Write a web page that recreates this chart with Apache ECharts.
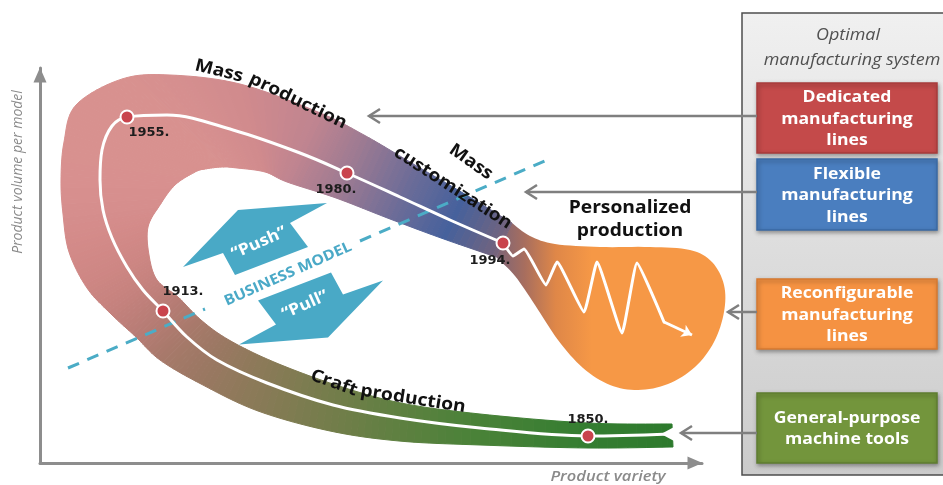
<!DOCTYPE html>
<html><head><meta charset="utf-8">
<script src="https://cdn.jsdelivr.net/npm/echarts@6/dist/echarts.min.js"></script>
<style>html,body{margin:0;padding:0;background:#fff;overflow:hidden}#c{width:943px;height:485px}</style>
</head><body><div id="c"></div>
<script>
// ---- data (units of the hidden axes: x = product variety, y = product volume per model) ----
const years = ['1850.', '1913.', '1955.', '1980.', '1994.'];
const milestoneX = [548, 123, 87, 307, 463];
const milestoneY = [27, 152, 346, 290, 220];

// evolution path (white line), from craft production to personalized production
const evolutionPath = [[630,29],[548,27],[440,35],[360,45],[293,58],[227,80],[177,103],[147,126],[123,152],[103,173],[87,196],[72,225],[63,253],[60,283],[62,313],[72,337],[87,346],[127,348],[193,333],[260,310],[307,290],[360,266],[410,243],[463,220]];

// ribbon cross-sections: outer edge and inner edge
const bandOuter = [[633,16],[548,15],[440,18],[359,22],[290,32],[218,52],[161,79],[120,103],[96,126],[71,149],[47,175],[29,211],[23,249],[21,283],[24,321],[36,358],[82,384],[130,388],[200,379],[278,351],[324,328],[375,298],[423,270],[472,240]];
const bandInner = [[632,39],[548,40],[440,49],[361,60],[296,78],[234,101],[189,123],[161,143],[138,166],[117,183],[109,208],[108,236],[120,258],[135,278],[155,291],[165,294],[182,296],[197,295],[225,291],[247,281],[296,265],[350,244],[401,225],[456,206]];
const bandNotch = [[636,37],[621,29],[636,21]];

// personalized production region
const blobOutline = [[472,240],[490,227],[515,219],[560,216],[610,216],[650,213],[672,201],[684,178],[684,151],[674,121],[655,96],[628,79],[598,73],[570,78],[543,95],[518,123],[495,158],[475,187],[456,206]];
const zigzag = [[463,220],[473,207],[484,214],[506,178],[517,201],[544,151],[557,201],[582,130],[597,200],[624,141]];
const zigzagArrow = [[624,141],[652,128]];

// business model axis (dashed)
const businessAxisLow = [[28,95],[165,154]];
const businessAxisHigh = [[320,222],[507,303]];

// ---- styles ----
const bandPalette = ['#2d7a2d','#357d31','#4a8238','#5f8041','#747d4b','#897a57','#9a7862','#a8796b','#b77c75','#c4817d','#cd8683','#d38a88','#d68e8d','#d8908f','#d8918f','#d8918f','#d8918f','#d68f8f','#d08a8d','#bf8490','#9c7a92','#6c6c98','#46619c','#7b6478'];
const yearLabelStyle = [
  {position:'top', distance:2},
  {position:'top', distance:5, offset:[20,0]},
  {position:'bottom', distance:2, offset:[22,0]},
  {position:'bottom', distance:3, offset:[-11,0]},
  {position:'bottom', distance:4, offset:[-13,0]}
];

function hexToRgb(h){const n=parseInt(h.slice(1),16);return [(n>>16)&255,(n>>8)&255,n&255];}
function mixColor(a,b,t){const A=hexToRgb(a),B=hexToRgb(b);return 'rgb('+A.map((v,i)=>Math.round(v+(B[i]-v)*t)).join(',')+')';}
function spline(pts, steps){
  const out=[];
  for(let i=0;i<pts.length-1;i++){
    const p0=pts[Math.max(i-1,0)],p1=pts[i],p2=pts[i+1],p3=pts[Math.min(i+2,pts.length-1)];
    for(let s=0;s<steps;s++){
      const t=s/steps,t2=t*t,t3=t2*t;
      const f=k=>0.5*(2*p1[k]+(-p0[k]+p2[k])*t+(2*p0[k]-5*p1[k]+4*p2[k]-p3[k])*t2+(-p0[k]+3*p1[k]-3*p2[k]+p3[k])*t3);
      out.push([f(0),f(1)]);
    }
  }
  out.push(pts[pts.length-1].slice());
  return out;
}

function renderBand(params, api){
  const children=[];
  const B = spline(blobOutline.map(p=>api.coord(p)), 8);
  const gx0 = api.coord([456,0])[0], gx1 = api.coord([552,0])[0];
  children.push({type:'polygon', shape:{points:B}, style:{
    fill:new echarts.graphic.LinearGradient(gx0,0,gx1,0,[
      {offset:0,color:'#7b6478'},{offset:0.3,color:'#a86e5e'},{offset:0.62,color:'#df8748'},{offset:1,color:'#f69846'}],true),
    stroke:null}});
  const steps=10;
  const O=spline(bandOuter.map(p=>api.coord(p)),steps);
  const I=spline(bandInner.map(p=>api.coord(p)),steps);
  for(let k=0;k<O.length-1;k++){
    const f=k/steps, i0=Math.floor(f), t=f-i0;
    const c=mixColor(bandPalette[i0], bandPalette[Math.min(i0+1,bandPalette.length-1)], t);
    children.push({type:'polygon', shape:{points:[O[k],O[k+1],I[k+1],I[k]]}, style:{fill:c, stroke:c, lineWidth:1}});
  }
  children.push({type:'polygon', shape:{points:bandNotch.map(p=>api.coord(p))}, style:{fill:'#fff'}});
  return {type:'group', children};
}

// ---- graphic annotations ----
const g=[];
const FONT='"Open Sans", "Noto Sans", sans-serif';
function T(text,x,y,font,fill,cw,extra){
  extra=extra||{};
  g.push({type:'text', x, y, rotation:-(cw||0)*Math.PI/180, scaleX:extra.sx||1, z:extra.z||20,
    style:{text, font, fill, align:'center', verticalAlign:'middle', lineHeight:extra.lh||undefined}});
}
// right panel
g.push({type:'rect', z:1, shape:{x:742,y:13,width:220,height:462},
  style:{fill:new echarts.graphic.LinearGradient(0,0,0,1,[{offset:0,color:'#f0f0f0'},{offset:1,color:'#cbcbcb'}]), stroke:'#4d4d4d', lineWidth:1.5}});
const boxes=[
  {y:83,h:70,fill:'#c44a4a',stroke:'#a83b3b',text:'Dedicated\nmanufacturing\nlines',arrowY:116,tip:368},
  {y:159,h:71,fill:'#4a7ebf',stroke:'#3a69a4',text:'Flexible\nmanufacturing\nlines',arrowY:192,tip:525},
  {y:279,h:70,fill:'#f59242',stroke:'#d67a30',text:'Reconfigurable\nmanufacturing\nlines',arrowY:312,tip:727},
  {y:393,h:70,fill:'#73953c',stroke:'#5f7d30',text:'General-purpose\nmachine tools',arrowY:433,tip:680}
];
boxes.forEach(b=>{
  g.push({type:'rect', z:3, shape:{x:757,y:b.y,width:180,height:b.h},
    style:{fill:b.fill, stroke:b.stroke, lineWidth:1.5, shadowBlur:4, shadowColor:'rgba(0,0,0,0.35)', shadowOffsetX:1, shadowOffsetY:2}});
  T(b.text, 847, b.y+b.h/2+1, 'bold 16px '+FONT, '#ffffff', 0, {lh:21.5, sx:1.1, z:4});
  g.push({type:'polyline', z:5, shape:{points:[[757,b.arrowY],[b.tip+1,b.arrowY]]}, style:{stroke:'#7f7f7f', lineWidth:2.5, fill:null}});
  g.push({type:'polyline', z:5, shape:{points:[[b.tip+12,b.arrowY-7],[b.tip+1,b.arrowY],[b.tip+12,b.arrowY+7]]}, style:{stroke:'#7f7f7f', lineWidth:2.5, fill:null}});
});
T('Optimal', 848, 35, 'italic 16px '+FONT, '#505050', 0, {sx:1.12});
T('manufacturing system', 852, 60, 'italic 16px '+FONT, '#505050', 0, {sx:1.12});

// axis names
T('Product volume per model', 18, 172, 'italic 14px '+FONT, '#8a8a8a', -90);
T('Product variety', 608, 477, 'italic 600 15px '+FONT, '#8a8a8a', 0, {sx:1.1});

// push / pull block arrows
const pushShape=[[183,267],[238,210],[327,203],[290,223],[308,247],[235,275],[223,253]];
const pullShape=pushShape.map(p=>[566-p[0],547.5-p[1]]);
g.push({type:'polygon', z:15, shape:{points:pushShape}, style:{fill:'#49a9c6'}});
g.push({type:'polygon', z:15, shape:{points:pullShape}, style:{fill:'#49a9c6'}});
T('\u201cPush\u201d', 259, 243, 'bold 16px '+FONT, '#ffffff', -24, {sx:1.1});
T('\u201cPull\u201d', 305, 305, 'bold 16px '+FONT, '#ffffff', -24, {sx:1.1});
T('BUSINESS MODEL', 288, 274, 'bold 14.5px '+FONT, '#4aa9c7', -24, {sx:1.1});

// phase labels
const LF='bold 17.5px '+FONT;
T('Mass', 219, 71, LF, '#111', 14, {sx:1.1});
T('production', 298, 101, LF, '#111', 26, {sx:1.1});
T('Mass', 471, 162, LF, '#111', 35, {sx:1.1});
T('customization', 453, 188, LF, '#111', 33, {sx:1.1});
T('Personalized\nproduction', 630, 220, LF, '#111', 0, {sx:1.1, lh:23});
T('Craft', 334, 383, LF, '#111', 20, {sx:1.1});
T('production', 413, 399, LF, '#111', 9, {sx:1.1});

const chart=echarts.init(document.getElementById('c'),null,{renderer:'canvas'});
chart.setOption({
  animation:false,
  backgroundColor:'#ffffff',
  grid:{left:40, top:68, width:662, height:395},
  xAxis:{type:'value', min:0, max:662, axisTick:{show:false}, axisLabel:{show:false}, splitLine:{show:false},
    axisLine:{show:true, symbol:['none','triangle'], symbolSize:[13,15], symbolOffset:[0,-7], lineStyle:{color:'#8d8d8d', width:3}}},
  yAxis:{type:'value', min:0, max:395, axisTick:{show:false}, axisLabel:{show:false}, splitLine:{show:false},
    axisLine:{show:true, symbol:['none','triangle'], symbolSize:[13,15], symbolOffset:[0,-7], lineStyle:{color:'#8d8d8d', width:3}}},
  graphic:{elements:g},
  series:[
    {type:'custom', renderItem:renderBand, data:[[0,0]], clip:false, silent:true, z:2},
    {type:'line', data:businessAxisLow, symbol:'none', silent:true, z:3, lineStyle:{color:'#4bacc6', width:3, type:[12,9]}},
    {type:'line', data:businessAxisHigh, symbol:'none', silent:true, z:3, lineStyle:{color:'#4bacc6', width:3, type:[12,9]}},
    {type:'line', data:evolutionPath, smooth:0.35, symbol:'none', silent:true, z:4, lineStyle:{color:'#ffffff', width:3}},
    {type:'line', data:zigzag, smooth:0.12, symbol:'none', silent:true, z:4, lineStyle:{color:'#ffffff', width:3, join:'round', cap:'round'}},
    {type:'lines', coordinateSystem:'cartesian2d', data:[{coords:zigzagArrow}], symbol:['none','arrow'], symbolSize:10, silent:true, z:4, lineStyle:{color:'#ffffff', width:3, opacity:1}},
    {type:'scatter', symbol:'circle', symbolSize:13, silent:true, z:6,
      itemStyle:{color:'#c9444d', borderColor:'#ffffff', borderWidth:2, opacity:1},
      label:{show:true, formatter:p=>p.name, color:'#1d1d1d', fontFamily:'DejaVu Sans', fontWeight:'bold', fontSize:13},
      data:years.map((y,i)=>({name:y, value:[milestoneX[i], milestoneY[i]], label:yearLabelStyle[i]}))}
  ]
});
</script></body></html>
